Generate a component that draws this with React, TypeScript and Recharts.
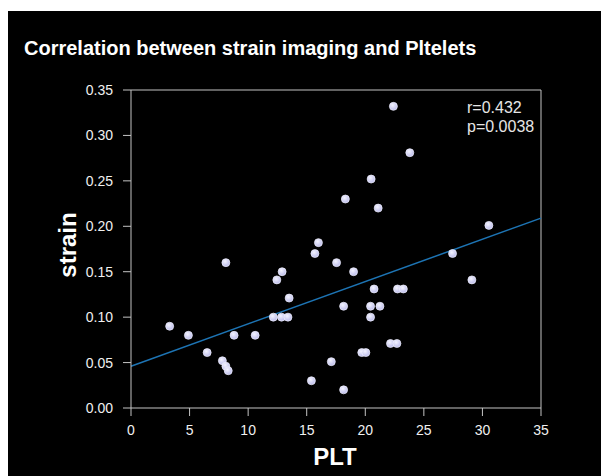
import React from "react";
import { ScatterChart, Scatter, XAxis, YAxis, ReferenceLine } from "recharts";

// PLT values (x) and strain values (y)
const plt = [
  3.3, 4.9, 6.5, 7.8, 8.1, 8.3, 8.1, 8.8, 10.6, 12.15, 12.85, 13.4, 13.5, 12.45,
  12.9, 15.4, 15.7, 16.0, 17.1, 17.55, 19.0, 18.15, 18.15, 18.3, 27.45, 29.1,
  20.75, 22.75, 23.25, 20.45, 21.25, 20.45, 22.15, 22.7, 19.7, 20.05, 22.4,
  23.8, 20.5, 21.1, 30.55,
];
const strain = [
  0.09, 0.08, 0.061, 0.052, 0.046, 0.041, 0.16, 0.08, 0.08, 0.1, 0.1, 0.1, 0.121,
  0.141, 0.15, 0.03, 0.17, 0.182, 0.051, 0.16, 0.15, 0.112, 0.02, 0.23, 0.17,
  0.141, 0.131, 0.131, 0.131, 0.112, 0.112, 0.1, 0.071, 0.071, 0.061, 0.061,
  0.332, 0.281, 0.252, 0.22, 0.201,
];

// fitted line end points
const fitX = [0, 35];
const fitY = [0.046, 0.209];

const xTicks = [0, 5, 10, 15, 20, 25, 30, 35];
const yTicks = [0, 0.05, 0.1, 0.15, 0.2, 0.25, 0.3, 0.35];

const data = plt.map((x, i) => ({ x, y: strain[i] }));

const font = '"Liberation Sans", Arial, sans-serif';
const axisColor = "#c4c4c4";

const Dot = (props: any) => {
  const { cx, cy } = props;
  if (cx == null || cy == null) return <g />;
  return <circle cx={cx} cy={cy} r={4} fill="url(#dotFill)" stroke="#f2f2ff" strokeWidth={0.7} />;
};

export default function App() {
  return (
    <div style={{ position: "relative", marginLeft: -2, marginTop: 3, width: 602, height: 465, background: "#000", fontFamily: font }}>
      <ScatterChart width={602} height={465} margin={{ top: 79, right: 67, bottom: 38, left: 0 }}>
        <defs>
          <radialGradient id="dotFill" cx="40%" cy="35%" r="70%">
            <stop offset="0%" stopColor="#f4f4ff" />
            <stop offset="100%" stopColor="#b8b8ea" />
          </radialGradient>
        </defs>
        <XAxis
          type="number"
          dataKey="x"
          domain={[0, 35]}
          ticks={xTicks}
          height={30}
          stroke={axisColor}
          tickSize={8}
          tickMargin={9}
          tick={{ fill: "#f0f0f0", fontSize: 14, fontFamily: font }}
        />
        <YAxis
          type="number"
          dataKey="y"
          domain={[0, 0.35]}
          ticks={yTicks}
          width={125}
          stroke={axisColor}
          tickSize={8}
          tickMargin={10}
          tickFormatter={(v: number) => v.toFixed(2)}
          tick={{ fill: "#f0f0f0", fontSize: 14, fontFamily: font }}
        />
        <ReferenceLine y={0.35} stroke={axisColor} strokeWidth={1} />
        <ReferenceLine x={35} stroke={axisColor} strokeWidth={1} />
        <ReferenceLine
          segment={[
            { x: fitX[0], y: fitY[0] },
            { x: fitX[1], y: fitY[1] },
          ]}
          stroke="#1d74b4"
          strokeWidth={1.5}
        />
        <Scatter data={data} shape={Dot} isAnimationActive={false} />
      </ScatterChart>
      <svg width={602} height={465} style={{ position: "absolute", left: 0, top: 0, pointerEvents: "none" }}>
        <text x={18} y={44} fill="#ffffff" fontSize={20} fontWeight="bold" fontFamily={font}>
          Correlation between strain imaging and Pltelets
        </text>
        <text x={461} y={102} fill="#e6e6e6" fontSize={16} fontFamily={font}>
          r=0.432
        </text>
        <text x={461} y={121} fill="#e6e6e6" fontSize={16} fontFamily={font}>
          p=0.0038
        </text>
        <text
          x={0}
          y={0}
          transform="translate(70,234) rotate(-90)"
          textAnchor="middle"
          fill="#ffffff"
          fontSize={24}
          fontWeight="bold"
          fontFamily={font}
        >
          strain
        </text>
        <text x={329} y={454} textAnchor="middle" fill="#ffffff" fontSize={24} fontWeight="bold" fontFamily={font}>
          PLT
        </text>
      </svg>
    </div>
  );
}
